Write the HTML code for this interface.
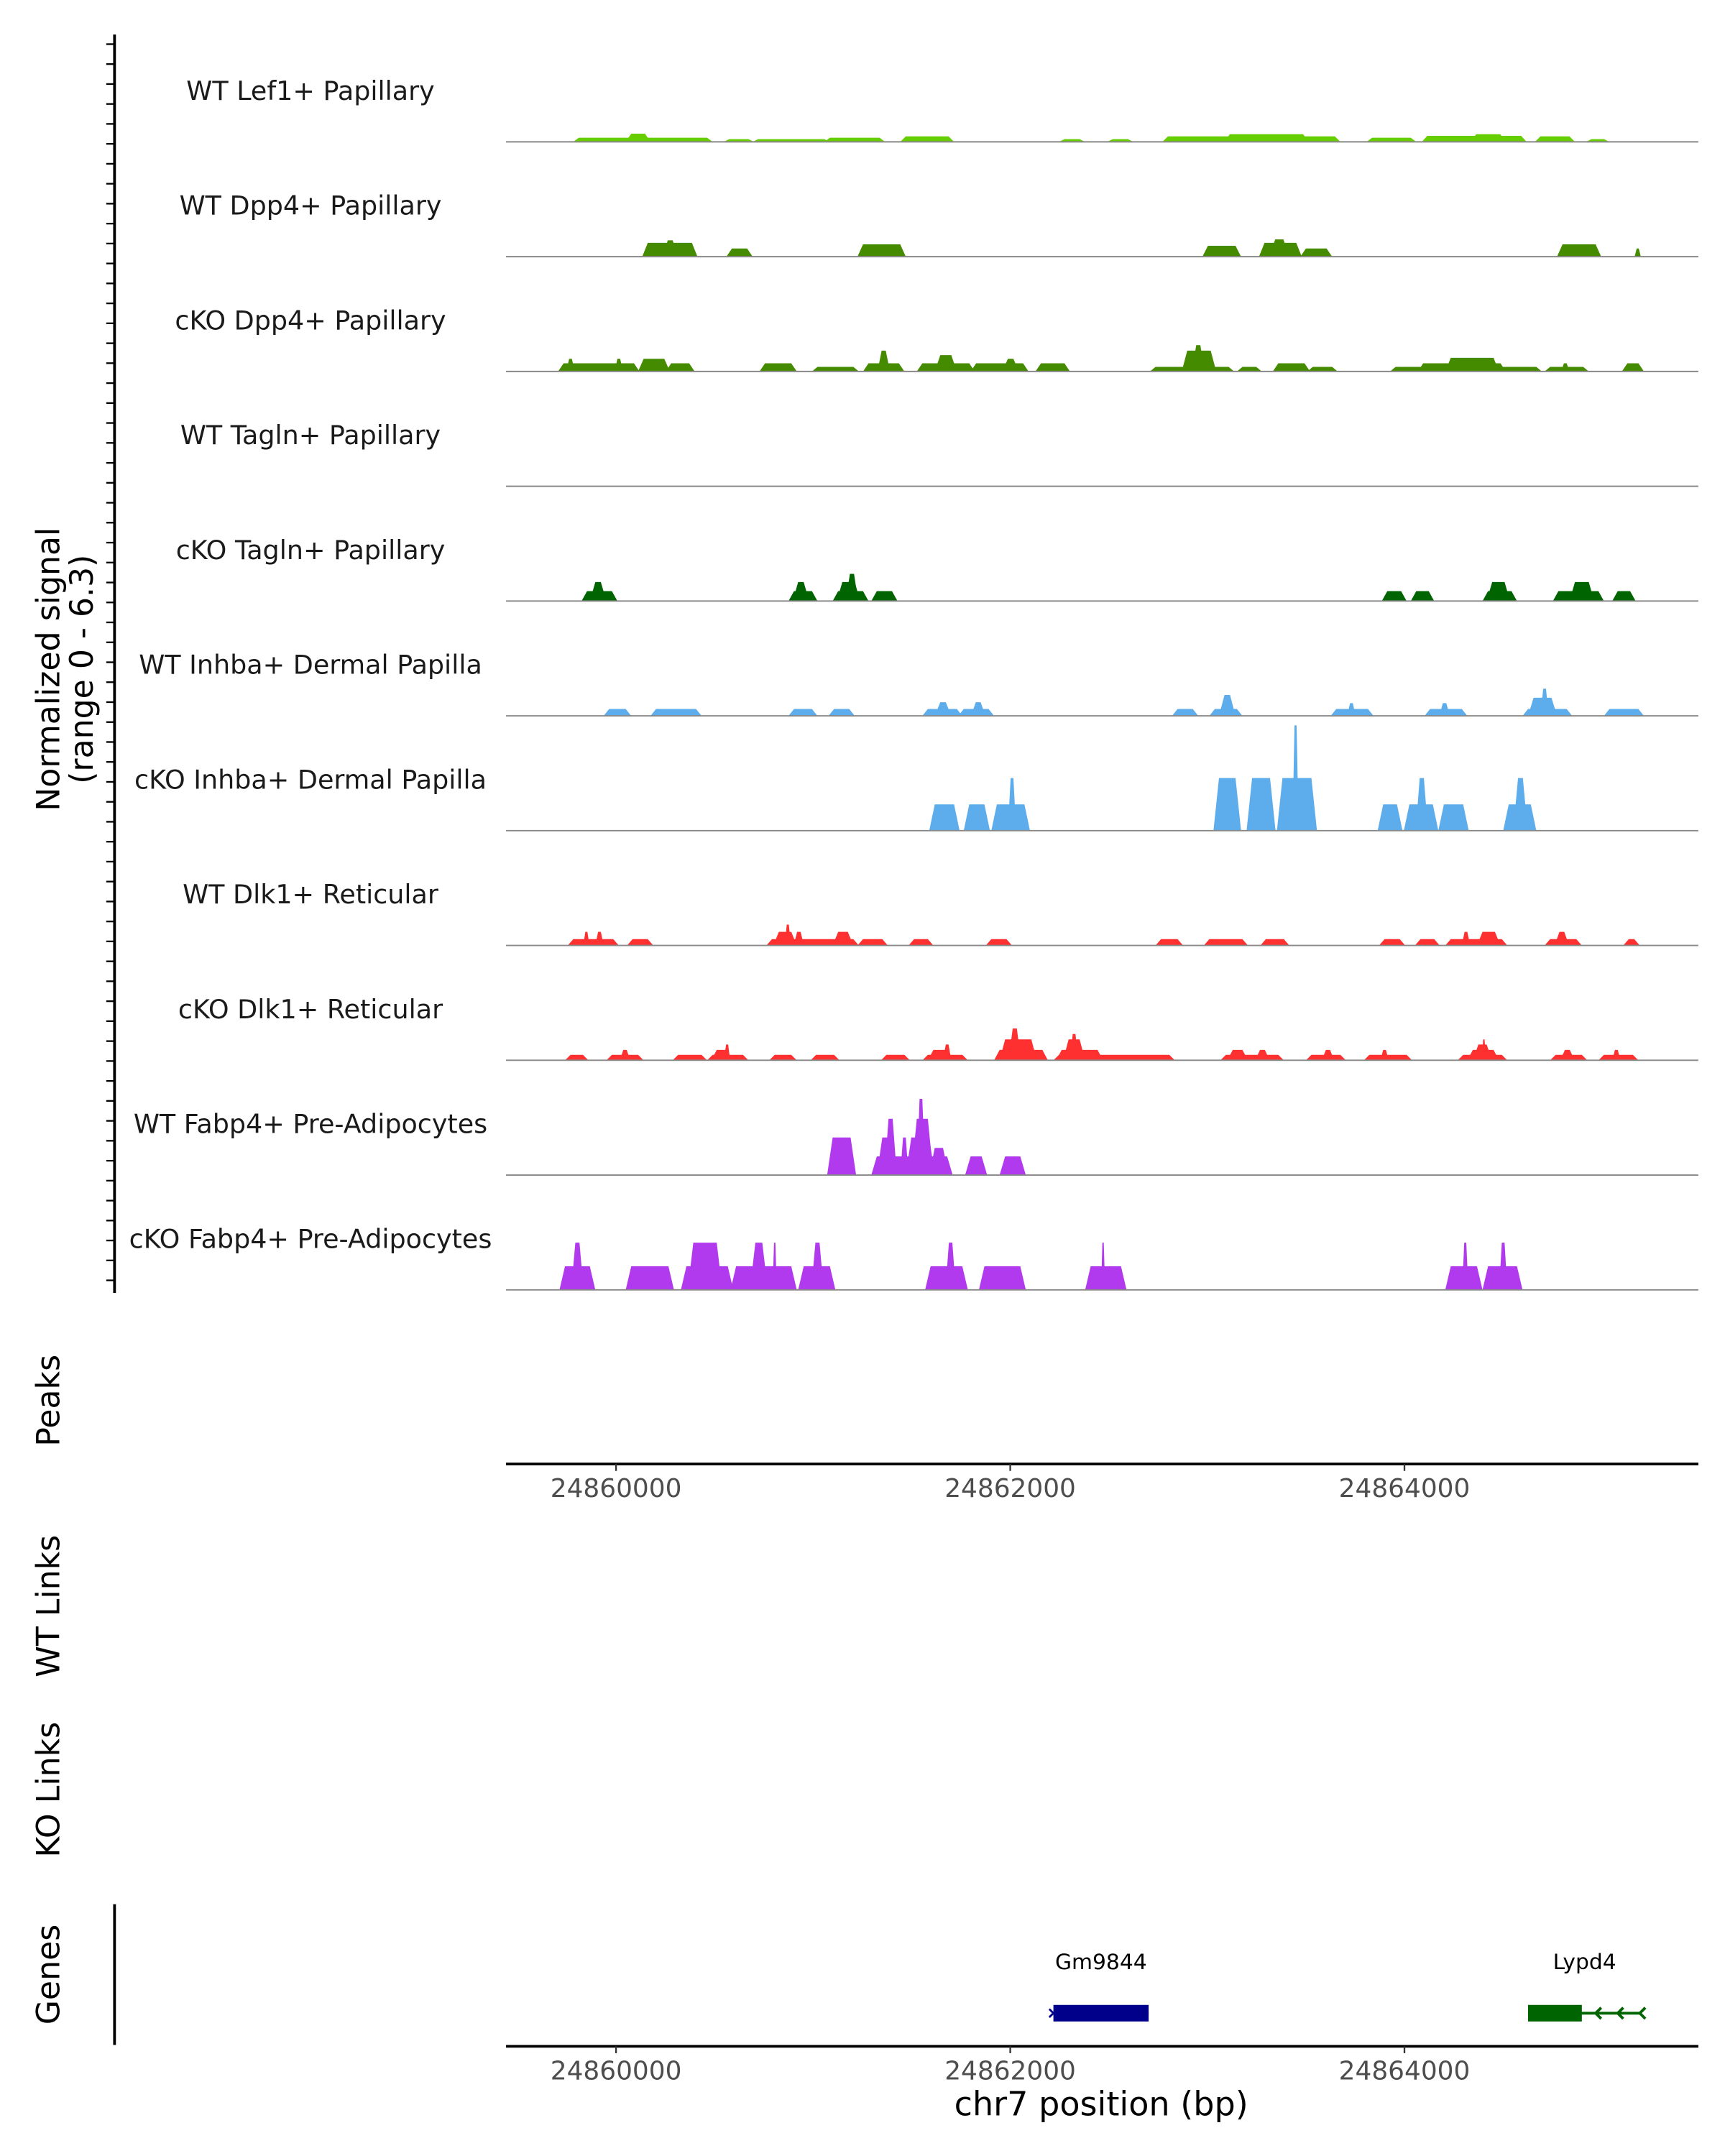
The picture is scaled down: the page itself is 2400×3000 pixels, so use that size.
<!DOCTYPE html>
<html><head><meta charset="utf-8">
<style>
html,body{margin:0;padding:0;background:#fff}
svg{display:block}
text{font-family:"DejaVu Sans","Liberation Sans",sans-serif}
</style></head>
<body>
<svg id="chart" xmlns="http://www.w3.org/2000/svg" width="2400" height="3000" viewBox="0 0 1250 1562.5">
<rect width="1250" height="1562.5" fill="#fff"/>
<g id="tracks"></g>
<g id="axes"></g>
</svg>
<script>
// bp positions are relative to 24,860,000; values are normalized signal
const REF = 24860000;
const trackNames = ["WT Lef1+ Papillary","WT Dpp4+ Papillary","cKO Dpp4+ Papillary","WT Tagln+ Papillary","cKO Tagln+ Papillary","WT Inhba+ Dermal Papilla","cKO Inhba+ Dermal Papilla","WT Dlk1+ Reticular","cKO Dlk1+ Reticular","WT Fabp4+ Pre-Adipocytes","cKO Fabp4+ Pre-Adipocytes"];
const trackColors = ["#66CD00","#458B00","#458B00","#006400","#006400","#5DADEC","#5DADEC","#FF3030","#FF3030","#B23AEE","#B23AEE"];
const xTicks = [24860000, 24862000, 24864000];
const lef1WT = [[-203,476,.23],[63,161,.45],[560,686,.15],[707,1071,.15],[1071,1351,.23],[1456,1701,.3],[2261,2366,.15],[2506,2611,.15],[2786,3661,.3],[3100,3500,.42],[3822,4046,.23],[4102,4606,.33],[4350,4500,.42],[4676,4851,.3],[4935,5026,.15]];
const dpp4WT = [[147,399,.76],[250,300,.9],[574,679,.45],[1239,1456,.68],[2989,3157,.6],[3276,3465,.76],[3330,3400,.95],[3486,3619,.45],[4788,4984,.68],[5173,5194,.45]];
const dpp4KO = [[-280,105,.45],[-245,-217,.7],[0,28,.7],[126,259,.7],[266,385,.45],[742,903,.45],[1008,1218,.25],[1267,1449,.45],[1337,1379,1.15],[1540,1806,.45],[1631,1715,.9],[1813,2079,.45],[1974,2030,.7],[2142,2289,.45],[2723,3122,.25],[2884,3031,1.15],[2933,2975,1.45],[3164,3262,.25],[3346,3507,.45],[3521,3647,.25],[3941,4683,.25],[4081,4501,.45],[4221,4466,.75],[4725,4921,.25],[4802,4830,.45],[5117,5201,.45]];
const taglnWT = [];
const taglnKO = [[-161,-7,.55],[-119,-63,1.05],[889,1008,.55],[910,966,1.05],[1113,1267,.55],[1134,1225,1.05],[1176,1218,1.5],[1309,1414,.55],[3899,3997,.55],[4046,4137,.55],[4410,4557,.55],[4431,4522,1.05],[4767,4998,.55],[4851,4949,1.05],[5068,5159,.55]];
const inhbaWT = [[-49,63,.38],[189,420,.38],[889,1008,.38],[1092,1197,.38],[1568,1743,.38],[1631,1687,.75],[1750,1904,.38],[1813,1862,.75],[2835,2940,.38],[3024,3164,.38],[3073,3129,1.15],[3640,3829,.38],[3717,3745,.7],[4116,4305,.38],[4186,4221,.7],[4613,4837,.38],[4641,4760,1.0],[4697,4725,1.5],[5026,5201,.38]];
const inhbaKO = [[1603,1729,1.45],[1778,1883,1.45],[1918,2086,1.45],[1995,2023,2.9],[3045,3157,2.9],[3213,3332,2.9],[3367,3542,2.9],[3437,3458,5.8],[3878,3976,1.45],[4011,4158,1.45],[4067,4109,2.9],[4186,4312,1.45],[4515,4655,1.45],[4564,4613,2.9]];
const dlk1WT = [[-231,0,.35],[-161,-140,.75],[-98,-70,.75],[70,175,.35],[777,1218,.35],[812,903,.75],[861,882,1.15],[910,945,.75],[1113,1190,.75],[1239,1365,.35],[1498,1596,.35],[1890,1995,.35],[2751,2863,.35],[2996,3192,.35],[3283,3402,.35],[3885,3990,.35],[4067,4165,.35],[4221,4508,.35],[4298,4326,.75],[4382,4473,.75],[4725,4886,.35],[4774,4823,.75],[5124,5180,.35]];
const dlk1KO = [[-245,-154,.3],[-35,126,.3],[28,63,.57],[301,448,.3],[476,658,.3],[497,574,.57],[553,574,.87],[791,903,.3],[1001,1120,.3],[1358,1477,.3],[1568,1771,.3],[1596,1694,.57],[1666,1694,.87],[1932,2177,.57],[1960,2121,1.15],[2002,2044,1.75],[2233,2821,.3],[2247,2457,.57],[2282,2366,1.15],[2310,2338,1.45],[3080,3374,.3],[3115,3192,.57],[3255,3304,.57],[3514,3689,.3],[3591,3633,.57],[3808,4025,.3],[3885,3913,.57],[4284,4508,.3],[4333,4466,.57],[4361,4431,.87],[4396,4410,1.15],[4753,4914,.3],[4802,4851,.57],[4998,5173,.3],[5061,5089,.57]];
const fabp4WT = [[1085,1204,2.07],[1309,1694,1.03],[1337,1407,2.07],[1372,1414,3.1],[1449,1477,2.07],[1484,1603,2.07],[1512,1596,3.1],[1533,1561,4.2],[1603,1673,1.5],[1785,1869,1.03],[1960,2065,1.03]];
const fabp4KO = [[-273,-119,1.3],[-217,-175,2.6],[63,280,1.3],[343,581,1.3],[378,525,2.6],[595,903,1.3],[693,756,2.6],[798,812,2.6],[938,1099,1.3],[1001,1043,2.6],[1582,1771,1.3],[1680,1715,2.6],[1855,2065,1.3],[2394,2576,1.3],[2464,2478,2.6],[4221,4382,1.3],[4298,4319,2.6],[4410,4585,1.3],[4487,4515,2.6]];
const trackData = [lef1WT,dpp4WT,dpp4KO,taglnWT,taglnKO,inhbaWT,inhbaKO,dlk1WT,dlk1KO,fabp4WT,fabp4KO];
const geneNames = ["Gm9844","Lypd4"];
const geneStart = [2219, 4627];
const geneEnd = [2702, 5201];
const exonEnd = [2702, 4900];

const NS="http://www.w3.org/2000/svg";
const X0=366.7, X1=1230.7;
function xScale(bp){ return 446.4 + (bp-REF)*0.14283; }
function xRel(p){ return xScale(REF+p); }
const UNIT=13.15;
function yScale(v, base){ return base - v*UNIT; }
function mk(tag, attrs, parent){ const e=document.createElementNS(NS,tag); for(const k in attrs) e.setAttribute(k,attrs[k]); parent.appendChild(e); return e; }

const tg=document.getElementById('tracks');
const ag=document.getElementById('axes');
const base0=102.8, step=83.2;
trackNames.forEach((name,i)=>{
  const base=base0+i*step;
  const g=mk('g',{},tg);
  
  
  trackData[i].forEach(b=>{
    const x1=xRel(b[0]), x2=xRel(b[1]);
    const y=yScale(b[2],base);
    const s=Math.min(2,(x2-x1)/4);
    const p=mk('polygon',{points:`${x1-s},${base} ${x1+s},${y} ${x2-s},${y} ${x2+s},${base}`,fill:trackColors[i]},g);
    
    
  });
  const l=mk('line',{x1:X0,x2:X1,y1:base,y2:base,stroke:'#888',"stroke-width":1},g);
  
  
  const t=mk('text',{x:225,y:base-30.5,"text-anchor":"middle","font-size":19,fill:"#1a1a1a"},g);
  t.textContent=name;
  
  
});

// left signal axis
mk('line',{x1:83,x2:83,y1:25,y2:937,stroke:'#000',"stroke-width":2},ag);
for(let y=32;y<=937;y+=14.45){ mk('line',{x1:77,x2:83,y1:y,y2:y,stroke:'#000',"stroke-width":1.2},ag); }
function rotText(x,y,lines,fs,name){
  const t=mk('text',{transform:`translate(${x},${y}) rotate(-90)`,"text-anchor":"middle","font-size":fs,fill:"#000"},ag);
  
  
  lines.forEach((s,k)=>{ const ts=mk('tspan',{x:0,dy:k?fs*1.05:0},t); ts.textContent=s; });
  return t;
}
rotText(43,485,["Normalized signal","(range 0 - 6.3)"],23,'y-axis-title');
rotText(43,1015,["Peaks"],23,'peaks-label');
rotText(43,1164,["WT Links"],23,'wt-links-label');
rotText(43,1297,["KO Links"],23,'ko-links-label');
rotText(43,1431,["Genes"],23,'genes-label');

function xAxis(y,labelY,name){
  const g=mk('g',{},ag);
  
  
  mk('line',{x1:X0,x2:X1,y1:y,y2:y,stroke:'#000',"stroke-width":2},g);
  xTicks.forEach(v=>{
    const x=xScale(v);
    mk('line',{x1:x,x2:x,y1:y,y2:y+5,stroke:'#333',"stroke-width":1.2},g);
    const t=mk('text',{x:x,y:labelY,"text-anchor":"middle","font-size":18.7,fill:"#4d4d4d"},g);
    t.textContent=v;
    
    
  });
}
xAxis(1061,1085,'peaks-x-axis');
xAxis(1483,1507,'genes-x-axis');
const xt=mk('text',{x:798,y:1533,"text-anchor":"middle","font-size":24,fill:"#000"},ag);
xt.textContent="chr7 position (bp)";


mk('line',{x1:83,x2:83,y1:1380,y2:1482,stroke:'#000',"stroke-width":2},ag);

// genes
const gcol=["#00008B","#006400"];
geneNames.forEach((n,i)=>{
  const g=mk('g',{},ag);
  
  
  const xs=xRel(geneStart[i]), xe=xRel(geneEnd[i]), xx=xRel(exonEnd[i]);
  mk('line',{x1:xs,x2:xe,y1:1459,y2:1459,stroke:gcol[i],"stroke-width":2},g);
  mk('rect',{x:xs,y:1453,width:xx-xs,height:12,fill:gcol[i]},g);
  if(i===1){ for(let x=xx+10;x<=xe;x+=16){ mk('path',{d:`M${x+4} 1455 L${x} 1459 L${x+4} 1463`,stroke:gcol[i],fill:'none',"stroke-width":2},g); } }
  else { mk('path',{d:`M${xs-3} 1456 L${xs+3} 1462 M${xs-3} 1462 L${xs+3} 1456`,stroke:gcol[i],"stroke-width":1.5},g); }
  const t=mk('text',{x:(xs+xe)/2,y:1427,"text-anchor":"middle","font-size":15.5,fill:"#000"},g);
  t.textContent=n;
  
  
});
</script>
</body></html>
